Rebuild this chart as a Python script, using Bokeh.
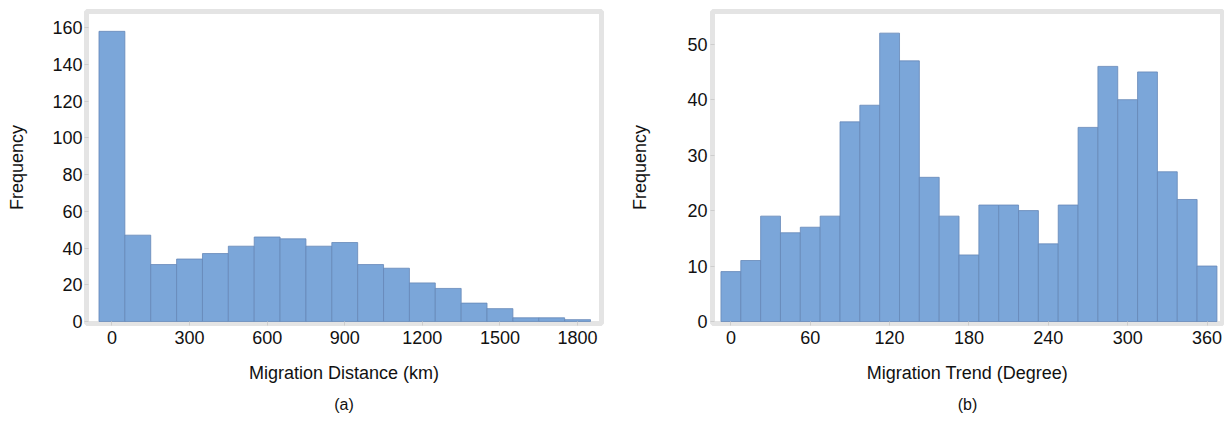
from bokeh.plotting import figure
from bokeh.models import FixedTicker, Title, Range1d
from bokeh.layouts import row
from bokeh.embed import file_html
from bokeh.resources import INLINE

# ---- data ----
dist_centers = [0, 100, 200, 300, 400, 500, 600, 700, 800, 900,
                1000, 1100, 1200, 1300, 1400, 1500, 1600, 1700, 1800]
dist_counts = [158, 47, 31, 34, 37, 41, 46, 45, 41, 43,
               31, 29, 21, 18, 10, 7, 2, 2, 1]
dist_ticks = [0, 300, 600, 900, 1200, 1500, 1800]
dist_yticks = [0, 20, 40, 60, 80, 100, 120, 140, 160]

trend_centers = [0, 15, 30, 45, 60, 75, 90, 105, 120, 135, 150, 165, 180,
                 195, 210, 225, 240, 255, 270, 285, 300, 315, 330, 345, 360]
trend_counts = [9, 11, 19, 16, 17, 19, 36, 39, 52, 47, 26, 19, 12,
                21, 21, 20, 14, 21, 35, 46, 40, 45, 27, 22, 10]
trend_ticks = [0, 60, 120, 180, 240, 300, 360]
trend_yticks = [0, 10, 20, 30, 40, 50]

FONT = "Liberation Sans"
TXT = "#111111"
BAR_FILL = "#7ba6d9"
BAR_LINE = "#6688b8"
BAND = "#e4e4e4"


def make_fig(centers, counts, bw, xr, yr, xticks, yticks, xlabel, sub,
             width, mbl, mbr, ylab_standoff, ytick_standoff):
    p = figure(width=width, height=420, output_backend="svg",
               toolbar_location=None, x_range=Range1d(*xr),
               y_range=Range1d(*yr), min_border_left=mbl,
               min_border_right=mbr, min_border_top=11, min_border_bottom=95)
    p.vbar(x=centers, top=counts, bottom=0, width=bw, fill_color=BAR_FILL,
           line_color=BAR_LINE, line_width=0.8)
    p.xgrid.visible = False
    p.ygrid.visible = False
    p.outline_line_color = BAND
    p.outline_line_width = 5
    p.background_fill_color = "white"
    p.border_fill_color = "white"
    for ax in (p.xaxis[0], p.yaxis[0]):
        ax.axis_line_color = None
        ax.major_tick_line_color = "#cdcdcd"
        ax.major_tick_in = 2
        ax.major_tick_out = 2
        ax.minor_tick_line_color = None
        ax.major_label_text_font = FONT
        ax.major_label_text_font_size = "18px"
        ax.major_label_text_color = TXT
        ax.axis_label_text_font = FONT
        ax.axis_label_text_font_size = "18px"
        ax.axis_label_text_font_style = "normal"
        ax.axis_label_text_color = TXT
    p.xaxis.ticker = FixedTicker(ticks=xticks)
    p.yaxis.ticker = FixedTicker(ticks=yticks)
    p.xaxis.axis_label = xlabel
    p.yaxis.axis_label = "Frequency"
    p.xaxis.major_label_standoff = 5
    p.yaxis.major_label_standoff = ytick_standoff
    p.xaxis.axis_label_standoff = 16
    p.yaxis.axis_label_standoff = ylab_standoff
    p.add_layout(Title(text=sub, align="center", text_font=FONT,
                       text_font_size="16px", text_font_style="normal",
                       text_color=TXT, standoff=16), "below")
    return p


p1 = make_fig(dist_centers, dist_counts, 100, (-98.3, 1892.5), (-1.1, 168.8),
              dist_ticks, dist_yticks, "Migration Distance (km)", "(a)",
              615, 86, 14, 22, 2)
p2 = make_fig(trend_centers, trend_counts, 15, (-13.9, 371.7), (-0.36, 55.9),
              trend_ticks, trend_yticks, "Migration Trend (Degree)", "(b)",
              609, 97, 2, 34, 3)

layout = row(p1, p2)
open("out.html", "w").write(file_html(layout, INLINE))
